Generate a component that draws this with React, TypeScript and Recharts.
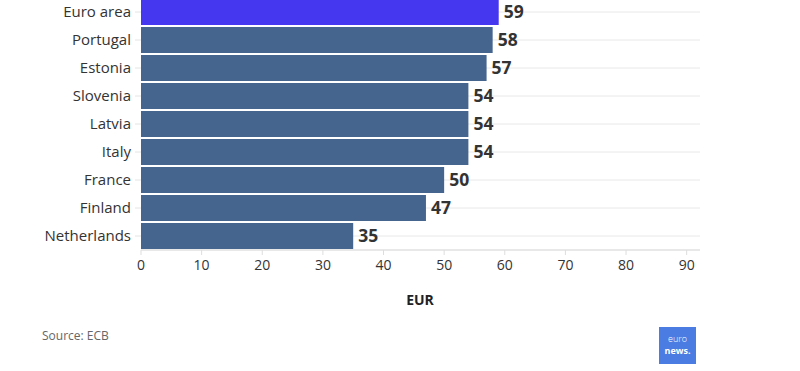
import { BarChart, Bar, XAxis, YAxis, CartesianGrid, Cell, LabelList } from "recharts";

const countries = [
  "Euro area",
  "Portugal",
  "Estonia",
  "Slovenia",
  "Latvia",
  "Italy",
  "France",
  "Finland",
  "Netherlands",
];
const values = [59, 58, 57, 54, 54, 54, 50, 47, 35];
const xTicks = [0, 10, 20, 30, 40, 50, 60, 70, 80, 90];

const data = countries.map((country, i) => ({ country, value: values[i] }));

const font = "'Open Sans', sans-serif";

export default function App() {
  return (
    <div
      style={{
        position: "absolute",
        left: 0,
        top: 0,
        width: 800,
        height: 371,
        overflow: "hidden",
        background: "#fff",
        fontFamily: font,
      }}
    >
      <div style={{ position: "absolute", left: 0, top: -22 }}>
        <BarChart
          width={800}
          height={302}
          data={data}
          layout="vertical"
          margin={{ top: 20, right: 100, bottom: 0, left: 0 }}
          barCategoryGap={1}
        >
          <CartesianGrid stroke="#e8e8e8" vertical={false} />
          <XAxis
            type="number"
            domain={[0, 92.2]}
            ticks={xTicks}
            interval={0}
            stroke="#dddddd"
            tickLine={{ stroke: "#dddddd" }}
            tickSize={5}
            tickMargin={5}
            height={30}
            tick={{ fontSize: 14, fill: "#333", fontFamily: font }}
          />
          <YAxis
            type="category"
            dataKey="country"
            width={141}
            axisLine={false}
            tickLine={{ stroke: "#e4e4e4" }}
            tickSize={6}
            tickMargin={4}
            tick={{ fontSize: 15, fill: "#333", fontFamily: font }}
          />
          <Bar dataKey="value" isAnimationActive={false}>
            {data.map((d, i) => (
              <Cell key={d.country} fill={i === 0 ? "#4536f0" : "#46658e"} />
            ))}
            <LabelList
              dataKey="value"
              position="right"
              offset={5}
              style={{ fontSize: 17.5, fontWeight: 700, fill: "#333", fontFamily: font }}
            />
          </Bar>
        </BarChart>
      </div>
      <div
        style={{
          position: "absolute",
          left: 0,
          width: 840,
          top: 290,
          textAlign: "center",
          fontSize: 14,
          fontWeight: 700,
          color: "#222",
        }}
      >
        EUR
      </div>
      <div style={{ position: "absolute", left: 42, top: 327, fontSize: 12, color: "#666" }}>
        Source: ECB
      </div>
      <div
        style={{
          position: "absolute",
          left: 659,
          top: 327,
          width: 37,
          height: 37,
          background: "#4a7ce2",
          color: "#fff",
          fontSize: 9,
        }}
      >
        <div style={{ position: "absolute", left: 0, width: 37, top: 6, height: 12, lineHeight: "12px", textAlign: "center", fontWeight: 300 }}>
          euro
        </div>
        <div style={{ position: "absolute", left: 0, width: 37, top: 18, height: 12, lineHeight: "12px", textAlign: "center", fontWeight: 700 }}>
          news.
        </div>
      </div>
    </div>
  );
}
